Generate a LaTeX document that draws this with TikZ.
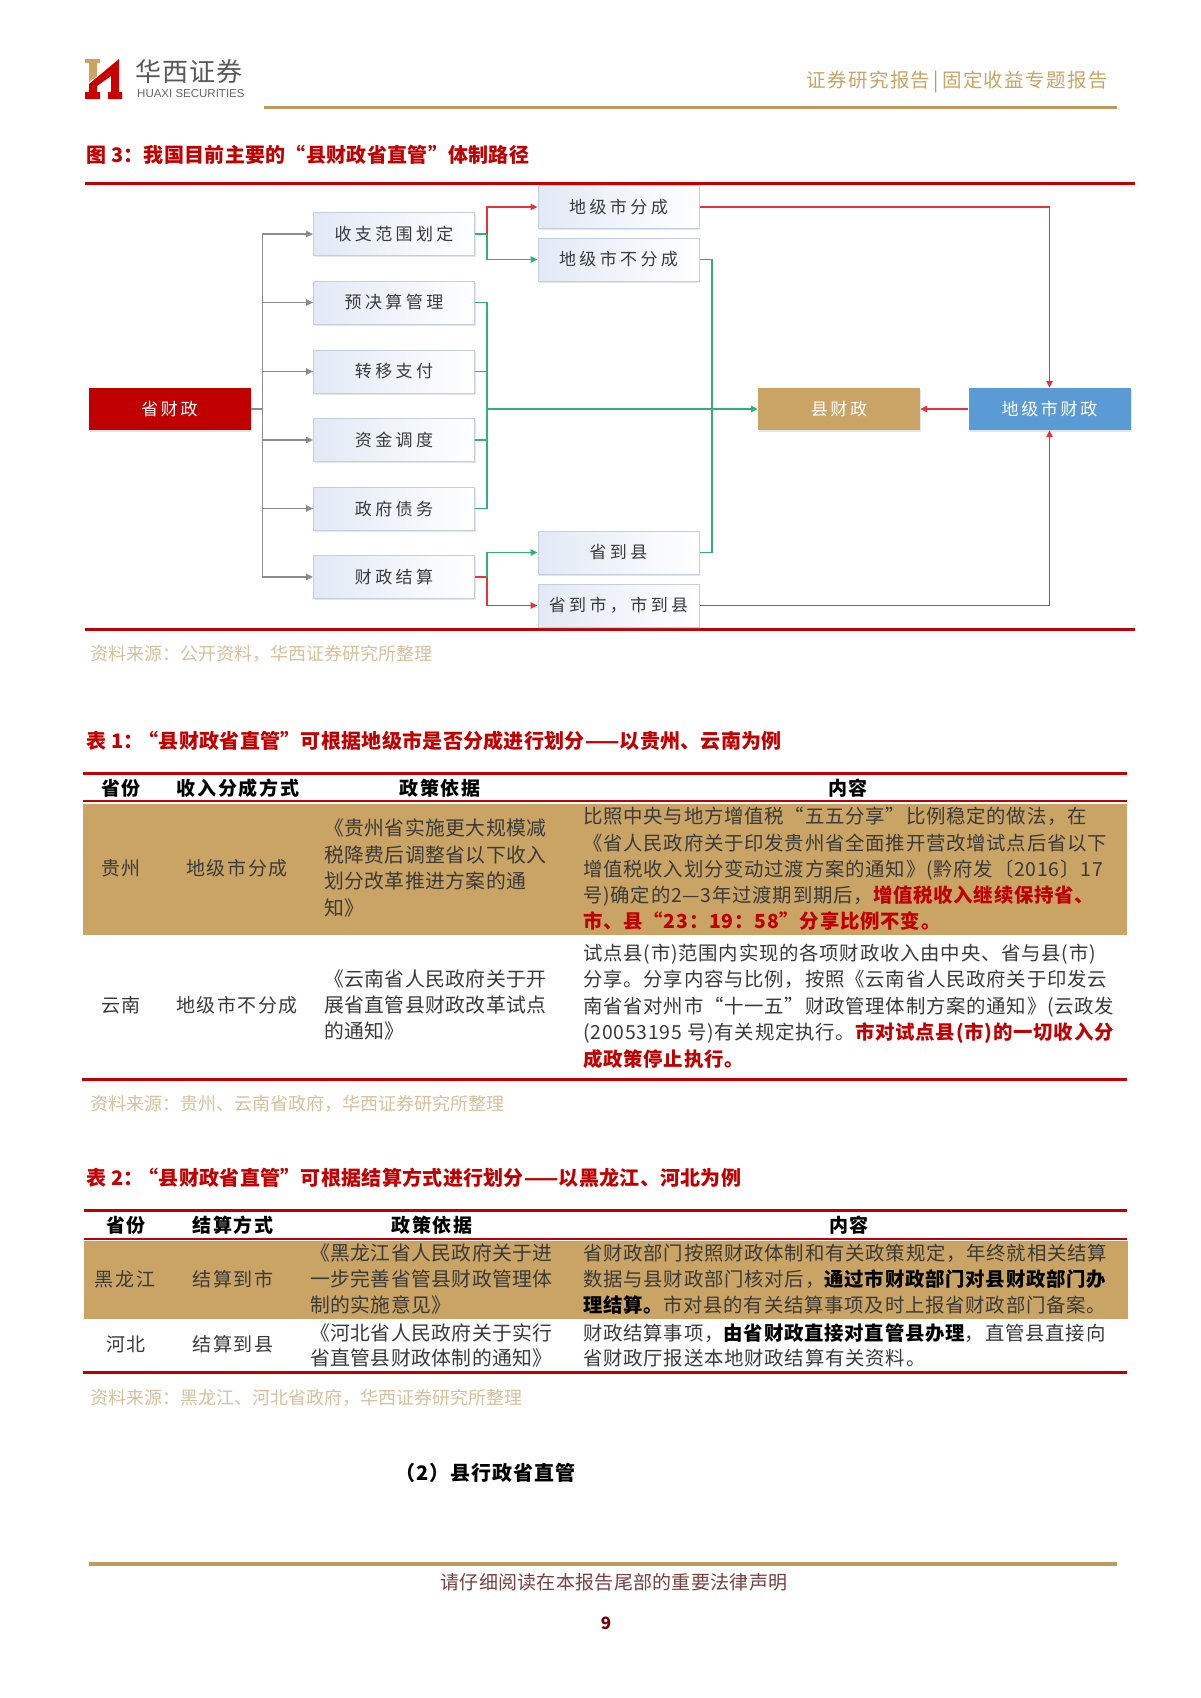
\documentclass[tikz,border=0pt]{standalone}
\usepackage{fontspec}
\usetikzlibrary{arrows.meta,shadows}
\setmainfont{Noto Sans CJK SC}
\newfontfamily\blackf{Noto Sans CJK SC Black}
\newfontfamily\latsans{Liberation Sans}
\definecolor{hred}{HTML}{C00000}
\definecolor{gold}{HTML}{C9A464}
\definecolor{goldline}{HTML}{BE9A5C}
\definecolor{srcgold}{HTML}{D6C19C}
\definecolor{bodyc}{HTML}{3A3A3A}
\definecolor{bluebox}{HTML}{5B9BD5}
\definecolor{conngray}{HTML}{8C8C8C}
\definecolor{conngreen}{HTML}{35B074}
\definecolor{connred}{HTML}{E5323B}
\definecolor{boxedge}{HTML}{C3CFDF}
\definecolor{boxleft}{HTML}{E2E9F5}
\newcommand{\fs}[2]{\fontsize{#1}{#2}\selectfont}
\newcommand{\hl}[1]{{\blackf\addfontfeatures{LetterSpace=4}\color{hred}#1}}
\newcommand{\hb}[1]{{\blackf\addfontfeatures{LetterSpace=4}\color{black}#1}}
\tikzset{
  lightbox/.style={draw=boxedge,line width=1pt,left color=boxleft,right color=white,
    minimum width=161pt,minimum height=43pt,inner sep=0pt,text=bodyc,
    font=\fs{17}{20}\addfontfeatures{LetterSpace=20},
    drop shadow={shadow xshift=1pt,shadow yshift=-1.5pt,opacity=.2,fill=gray}},
  solidbox/.style={minimum width=162pt,minimum height=42pt,inner sep=0pt,text=white,
    font=\fs{17}{20}\addfontfeatures{LetterSpace=16},
    drop shadow={shadow xshift=1pt,shadow yshift=-1.5pt,opacity=.2,fill=gray}},
  gline/.style={conngray,line width=1.3pt},
  gr/.style={conngreen,line width=1.3pt},
  rd/.style={connred,line width=1.3pt},
  tip/.style={-{Triangle[length=7pt,width=6.5pt]}},
  caption/.style={anchor=west,inner sep=0pt,text=hred,font=\fs{20}{24}\blackf\addfontfeatures{LetterSpace=1.5}},
  source/.style={anchor=west,inner sep=0pt,text=srcgold,font=\fs{18}{22}},
  cell/.style={inner sep=0pt,text=bodyc,font=\fs{19}{26}\addfontfeatures{LetterSpace=8}},
  head/.style={inner sep=0pt,text=black,font=\fs{19}{24}\blackf\addfontfeatures{LetterSpace=9}},
  para/.style={anchor=west,inner sep=0pt,align=left,text=bodyc},
  bodypara/.style={para,font=\fs{19.4}{#1}\addfontfeatures{LetterSpace=4}},
  lawpara/.style={para,font=\fs{19.8}{#1}\addfontfeatures{LetterSpace=2.2}},
  hrule/.style={hred,line width=3pt},
  thinrule/.style={hred,line width=2pt},
}
\begin{document}
\begin{tikzpicture}[x=1pt,y=-1pt]
\useasboundingbox (0,0) rectangle (1200,1698);
\fill[white] (0,0) rectangle (1200,1698);
% header
\fill[hred!85!red] (119,59)--(119,92)--(122,92)--(122,99)--(108,99)--(108,92)--(111,92)--(111,76)--(97,86)--(97,92)--(100,92)--(100,99)--(85,99)--(85,92)--(89,92)--(89,84)--cycle;
\fill[gold] (85,59)--(100,59)--(100,63)--(97,63)--(97,76)--(89,82)--(89,63)--(85,63)--cycle;
\node[anchor=west,inner sep=0pt,text=black!65,font=\fs{26}{30}\addfontfeatures{LetterSpace=4}] (brand) at (135,72) {华西证券};
\node[anchor=west,inner sep=0pt,text=black!60,font=\latsans\fs{11.5}{13}] (brandlat) at (137,93.5) {HUAXI SECURITIES};
\node[anchor=east,inner sep=0pt,text=gold,font=\fs{19.5}{24}\addfontfeatures{LetterSpace=7}] (hdr) at (1108,82) {证券研究报告\,\textcolor{goldline}{|}\,固定收益专题报告};
\draw[goldline,line width=3pt] (264,107)--(1117,107);
% figure caption
\node[caption] (figcap) at (86,155) {图 3：我国目前主要的“县财政省直管”体制路径};
\draw[hrule] (85,183)--(1135,183);
\draw[hrule] (85,629)--(1135,629);
% diagram nodes
\node[solidbox,fill=hred] (prov) at (169.5,409) {省财政};
\node[lightbox] (b1) at (394,234) {收支范围划定};
\node[lightbox] (b2) at (394,302.5) {预决算管理};
\node[lightbox] (b3) at (394,371.5) {转移支付};
\node[lightbox] (b4) at (394,440) {资金调度};
\node[lightbox] (b5) at (394,508.5) {政府债务};
\node[lightbox] (b6) at (394,577) {财政结算};
\node[lightbox] (m1) at (618.5,207) {地级市分成};
\node[lightbox] (m2) at (618.5,259.5) {地级市不分成};
\node[lightbox] (m3) at (618.5,552.5) {省到县};
\node[lightbox] (m4) at (618.5,605.5) {省到市，市到县};
\node[solidbox,fill=gold] (county) at (839,409) {县财政};
\node[solidbox,fill=bluebox] (city) at (1049.5,409) {地级市财政};
\coordinate (gb) at (262.5,409);
\coordinate (gg) at (487,409);
\coordinate (gh) at (712,409);
\coordinate (s1) at (487,234);
\coordinate (s6) at (487,577);
% gray
\draw[gline] (prov.east)--(gb);
\foreach \n in {b1,b2,b3,b4,b5,b6} \draw[gline,tip] (gb) |- (\n.west);
% green
\draw[gr] (b1.east)--(s1);
\draw[gr,tip] (s1) |- (m2.west);
\draw[rd,tip] (s1) |- (m1.west);
\foreach \n in {b2,b3,b4,b5} \draw[gr] (\n.east) -| (gg);
\draw[gr] (m2.east) -| (gh);
\draw[gr] (m3.east) -| (gh);
\draw[rd] (b6.east)--(s6);
\draw[gr,tip] (s6) |- (m3.west);
\draw[rd,tip] (s6) |- (m4.west);
\draw[gr,line width=2pt,tip] (gg)--(county.west);
% red
\draw[rd,tip] (m1.east) -| (city.north);
\draw[rd,tip] (m4.east) -| (city.south);
\draw[rd,line width=1.8pt,tip] (city.west)--(county.east);
\node[source] (src1) at (90,654) {资料来源：公开资料，华西证券研究所整理};
% table 1
\node[caption] (t1cap) at (86,741) {表 1：\kern-5pt“县财政省直管”可根据地级市是否分成进行划分——以贵州、云南为例};
\draw[hrule] (83,773)--(1127,773);
\draw[thinrule] (83,801)--(1127,801);
\fill[gold] (83,804) rectangle (1127,935);
\draw[hrule] (82,1079)--(1127,1079);
\node[head] (t1h1) at (121,788) {省份};
\node[head] (t1h2) at (238,788) {收入分成方式};
\node[head] (t1h3) at (440,788) {政策依据};
\node[head] (t1h4) at (848,788) {内容};
\node[cell] (t1a1) at (121,868) {贵州};
\node[cell] (t1a2) at (237,868) {地级市分成};
\node[lawpara=26.4] (t1a3) at (324,868) {《贵州省实施更大规模减\\税降费后调整省以下收入\\划分改革推进方案的通\\知》};
\node[bodypara=26.2] (t1a4) at (583,869) {比照中央与地方增值税“五五分享”比例稳定的做法，在\\《省人民政府关于印发贵州省全面推开营改增试点后省以下\\增值税收入划分变动过渡方案的通知》(黔府发〔2016〕17\\号)确定的2—3年过渡期到期后，\hl{增值税收入继续保持省、}\\\hl{市、县“23：19：58”分享比例不变。}};
\node[cell] (t1b1) at (121,1005) {云南};
\node[cell] (t1b2) at (237,1005) {地级市不分成};
\node[lawpara=26] (t1b3) at (324,1005) {《云南省人民政府关于开\\展省直管县财政改革试点\\的通知》};
\node[bodypara=26.5] (t1b4) at (583,1006) {试点县(市)范围内实现的各项财政收入由中央、省与县(市)\\分享。分享内容与比例，按照《云南省人民政府关于印发云\\南省省对州市“十一五”财政管理体制方案的通知》(云政发\\(20053195 号)有关规定执行。\hl{市对试点县(市)的一切收入分}\\\hl{成政策停止执行。}};
\node[source] (src2) at (90,1104) {资料来源：贵州、云南省政府，华西证券研究所整理};
% table 2
\node[caption] (t2cap) at (86,1178) {表 2：\kern-5pt“县财政省直管”可根据结算方式进行划分——以黑龙江、河北为例};
\draw[hrule] (84,1210)--(1127,1210);
\draw[thinrule] (84,1239)--(1127,1239);
\fill[gold] (84,1241) rectangle (1128,1319);
\draw[hrule] (83,1372.5)--(1127,1372.5);
\node[head] (t2h1) at (126,1225) {省份};
\node[head] (t2h2) at (233,1225) {结算方式};
\node[head] (t2h3) at (432,1225) {政策依据};
\node[head] (t2h4) at (849,1225) {内容};
\node[cell] (t2a1) at (125,1279) {黑龙江};
\node[cell] (t2a2) at (233,1279) {结算到市};
\node[lawpara=26] (t2a3) at (310,1279) {《黑龙江省人民政府关于进\\一步完善省管县财政管理体\\制的实施意见》};
\node[bodypara=26] (t2a4) at (583,1279) {省财政部门按照财政体制和有关政策规定，年终就相关结算\\数据与县财政部门核对后，\hb{通过市财政部门对县财政部门办}\\\hb{理结算。}市对县的有关结算事项及时上报省财政部门备案。};
\node[cell] (t2b1) at (126,1344) {河北};
\node[cell] (t2b2) at (233,1344) {结算到县};
\node[lawpara=25] (t2b3) at (310,1345.5) {《河北省人民政府关于实行\\省直管县财政体制的通知》};
\node[bodypara=25] (t2b4) at (583,1345.5) {财政结算事项，\hb{由省财政直接对直管县办理}，直管县直接向\\省财政厅报送本地财政结算有关资料。};
\node[source] (src3) at (90,1398) {资料来源：黑龙江、河北省政府，华西证券研究所整理};
\node[anchor=west,inner sep=0pt,text=black,font=\fs{20}{24}\blackf\addfontfeatures{LetterSpace=5}] (sec) at (395,1473) {（2）县行政省直管};
% footer
\draw[goldline,line width=3.5pt] (89,1564)--(1117,1564);
\node[inner sep=0pt,text=black!40!hred!50!gray,font=\fs{19}{24}\addfontfeatures{LetterSpace=1.5}] (foot) at (614,1582) {请仔细阅读在本报告尾部的重要法律声明};
\node[inner sep=0pt,text=hred!60!black,font=\fs{17}{20}\bfseries] (page) at (606,1623) {9};
\end{tikzpicture}
\end{document}
